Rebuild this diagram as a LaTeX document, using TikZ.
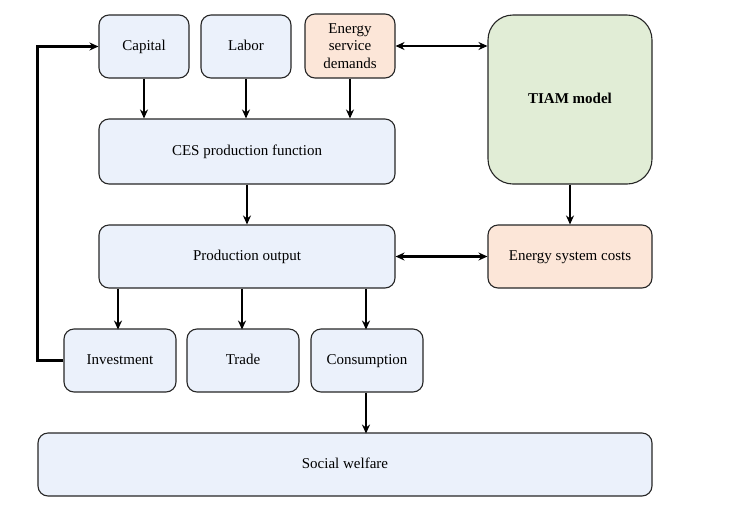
\documentclass[tikz,border=0pt]{standalone}
\usepackage{fontspec}
\setmainfont{Liberation Serif}
\usetikzlibrary{arrows.meta}
\definecolor{boxblue}{HTML}{EBF1FB}
\definecolor{boxorange}{HTML}{FCE6D8}
\definecolor{boxgreen}{HTML}{E1EDD6}
\begin{document}
\begin{tikzpicture}[x=1pt,y=-1pt,
    box/.style={draw=black!85, line width=1.1pt, rounded corners=10pt,
        align=center, inner sep=0pt, font=\fontsize{15}{17.5}\selectfont},
    one/.style={text height=10.5pt, text depth=3.5pt},
    arr/.style={line width=2.4pt, -{Stealth[length=9pt,width=8pt]}},
    dbl/.style={line width=2.4pt, {Stealth[length=9pt,width=8pt]}-{Stealth[length=9pt,width=8pt]}}]
    \useasboundingbox (0,0) rectangle (734,515);
    % inputs
    \node[box, one, fill=boxblue, minimum width=90pt, minimum height=63pt] (capital) at (144,46.5) {Capital};
    \node[box, one, fill=boxblue, minimum width=90pt, minimum height=63pt] (labor) at (246,46.5) {Labor};
    \node[box, fill=boxorange, minimum width=90pt, minimum height=64pt] (esd) at (350,46) {Energy\\service\\demands};
    \node[box, one, fill=boxgreen, rounded corners=25pt, minimum width=164pt, minimum height=169pt,
        font=\fontsize{15}{17.5}\selectfont\bfseries] (tiam) at (570,99.5) {TIAM model};
    % production
    \node[box, one, fill=boxblue, minimum width=296pt, minimum height=65pt] (ces) at (247,151.5) {CES production function};
    \node[box, one, fill=boxblue, minimum width=296pt, minimum height=63pt] (output) at (247,256.5) {Production output};
    \node[box, one, fill=boxorange, minimum width=164pt, minimum height=63pt] (costs) at (570,256.5) {Energy system costs};
    % uses
    \node[box, one, fill=boxblue, minimum width=112pt, minimum height=63pt] (invest) at (120,360.5) {Investment};
    \node[box, one, fill=boxblue, minimum width=112pt, minimum height=63pt] (trade) at (243,360.5) {Trade};
    \node[box, one, fill=boxblue, minimum width=112pt, minimum height=63pt] (consum) at (367,360.5) {Consumption};
    \node[box, one, fill=boxblue, minimum width=614pt, minimum height=63pt] (welfare) at (345,464.5) {Social welfare};
    % arrows
    \foreach \a in {capital,labor,esd}
        \draw[arr] (\a.south) -- (\a.south |- ces.north);
    \draw[arr] (ces.south) -- (output.north);
    \draw[arr] (invest.north |- output.south) ++(-2,0) -- ++(0,41);
    \draw[arr] (trade.north |- output.south) ++(-1,0) -- ++(0,41);
    \draw[arr] (consum.north |- output.south) ++(-1,0) -- ++(0,41);
    \draw[arr] (consum.south) ++(-1,0) -- ++(0,41);
    \draw[arr] (tiam.south) -- (costs.north);
    \draw[dbl] (esd.east) -- (tiam.west |- esd.east);
    \draw[dbl] (output.east) -- (costs.west);
    \draw[arr] (invest.west) -- ++(-26,0) |- (capital.west);
\end{tikzpicture}
\end{document}
